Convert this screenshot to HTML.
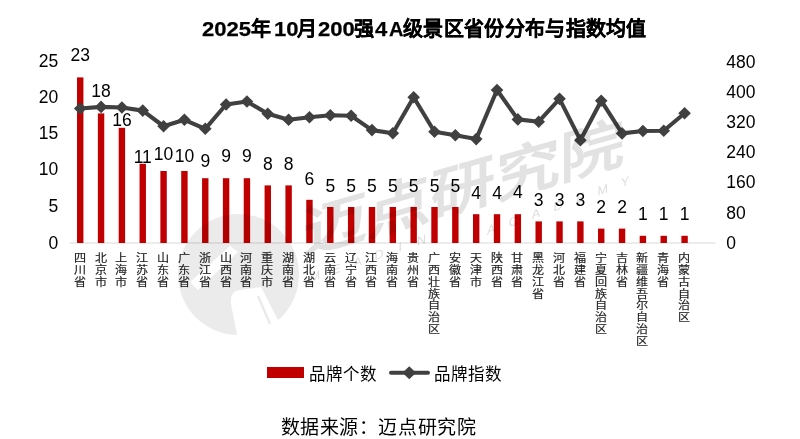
<!DOCTYPE html>
<html lang="zh-CN"><head><meta charset="utf-8">
<style>
html,body{margin:0;padding:0;background:#fff;}
body{width:800px;height:439px;position:relative;overflow:hidden;font-family:"Liberation Sans",sans-serif;color:#000;}
.abs{position:absolute;}
.vl,.al,.ar{position:absolute;font-size:17.5px;line-height:0;white-space:nowrap;}
.vl{transform:translateX(-50%);}
.al{right:741.7px;}
.ar{left:726.2px;}
.cl{position:absolute;top:253px;width:16px;margin-left:-8.5px;font-size:11px;line-height:11.85px;text-align:center;color:#222;word-break:break-all;-webkit-text-stroke:0.15px #222;transform:scaleX(1.1);}
.d{transform:scaleX(1.05);transform-origin:0 0;font-size:21px !important;}
.t{position:absolute;top:18px;-webkit-text-stroke:0.25px #000;font-size:20px;font-weight:bold;line-height:22px;white-space:nowrap;}
#legend1{position:absolute;left:266.8px;top:367.3px;width:37px;height:11px;background:#c00000;}
#lt1{position:absolute;left:308.5px;top:364px;font-size:16.5px;line-height:20px;white-space:nowrap;}
#lt2{position:absolute;left:434px;top:364px;font-size:16.5px;line-height:20px;white-space:nowrap;}
#src{position:absolute;left:280.5px;top:415.5px;font-size:19px;letter-spacing:0.6px;line-height:24px;white-space:nowrap;}
svg{position:absolute;left:0;top:0;}
#wms{mix-blend-mode:multiply;}
</style></head><body>
<svg width="800" height="439" viewBox="0 0 800 439">
<line x1="69.8" y1="243" x2="715.5" y2="243" stroke="#d9d9d9" stroke-width="1.2"/>
<rect x="77.02" y="77.40" width="6.4" height="165.60" fill="#c00000"/>
<rect x="97.86" y="113.40" width="6.4" height="129.60" fill="#c00000"/>
<rect x="118.70" y="127.80" width="6.4" height="115.20" fill="#c00000"/>
<rect x="139.54" y="163.80" width="6.4" height="79.20" fill="#c00000"/>
<rect x="160.38" y="171.00" width="6.4" height="72.00" fill="#c00000"/>
<rect x="181.22" y="171.00" width="6.4" height="72.00" fill="#c00000"/>
<rect x="202.06" y="178.20" width="6.4" height="64.80" fill="#c00000"/>
<rect x="222.90" y="178.20" width="6.4" height="64.80" fill="#c00000"/>
<rect x="243.74" y="178.20" width="6.4" height="64.80" fill="#c00000"/>
<rect x="264.58" y="185.40" width="6.4" height="57.60" fill="#c00000"/>
<rect x="285.42" y="185.40" width="6.4" height="57.60" fill="#c00000"/>
<rect x="306.26" y="199.80" width="6.4" height="43.20" fill="#c00000"/>
<rect x="327.10" y="207.00" width="6.4" height="36.00" fill="#c00000"/>
<rect x="347.94" y="207.00" width="6.4" height="36.00" fill="#c00000"/>
<rect x="368.78" y="207.00" width="6.4" height="36.00" fill="#c00000"/>
<rect x="389.62" y="207.00" width="6.4" height="36.00" fill="#c00000"/>
<rect x="410.46" y="207.00" width="6.4" height="36.00" fill="#c00000"/>
<rect x="431.30" y="207.00" width="6.4" height="36.00" fill="#c00000"/>
<rect x="452.14" y="207.00" width="6.4" height="36.00" fill="#c00000"/>
<rect x="472.98" y="214.20" width="6.4" height="28.80" fill="#c00000"/>
<rect x="493.82" y="214.20" width="6.4" height="28.80" fill="#c00000"/>
<rect x="514.66" y="214.20" width="6.4" height="28.80" fill="#c00000"/>
<rect x="535.50" y="221.40" width="6.4" height="21.60" fill="#c00000"/>
<rect x="556.34" y="221.40" width="6.4" height="21.60" fill="#c00000"/>
<rect x="577.18" y="221.40" width="6.4" height="21.60" fill="#c00000"/>
<rect x="598.02" y="228.60" width="6.4" height="14.40" fill="#c00000"/>
<rect x="618.86" y="228.60" width="6.4" height="14.40" fill="#c00000"/>
<rect x="639.70" y="235.80" width="6.4" height="7.20" fill="#c00000"/>
<rect x="660.54" y="235.80" width="6.4" height="7.20" fill="#c00000"/>
<rect x="681.38" y="235.80" width="6.4" height="7.20" fill="#c00000"/>
<polyline points="80.22,108.5 101.06,106.9 121.90,107.5 142.74,110.6 163.58,126.25 184.42,119.8 205.26,128.8 226.10,104.5 246.94,101.5 267.78,113.8 288.62,119.8 309.46,117.25 330.30,115.3 351.14,115.75 371.98,130.1 392.82,133.25 413.66,97.25 434.50,131.75 455.34,135.2 476.18,139.1 497.02,90 517.86,119.4 538.70,121.7 559.54,98.85 580.38,140.2 601.22,100.7 622.06,133.4 642.90,131 663.74,130.7 684.58,113.2" fill="none" stroke="#404040" stroke-width="4.1" stroke-linejoin="round"/>
<path d="M80.22 102.20L86.52 108.50L80.22 114.80L73.92 108.50Z" fill="#404040"/>
<path d="M101.06 100.60L107.36 106.90L101.06 113.20L94.76 106.90Z" fill="#404040"/>
<path d="M121.90 101.20L128.20 107.50L121.90 113.80L115.60 107.50Z" fill="#404040"/>
<path d="M142.74 104.30L149.04 110.60L142.74 116.90L136.44 110.60Z" fill="#404040"/>
<path d="M163.58 119.95L169.88 126.25L163.58 132.55L157.28 126.25Z" fill="#404040"/>
<path d="M184.42 113.50L190.72 119.80L184.42 126.10L178.12 119.80Z" fill="#404040"/>
<path d="M205.26 122.50L211.56 128.80L205.26 135.10L198.96 128.80Z" fill="#404040"/>
<path d="M226.10 98.20L232.40 104.50L226.10 110.80L219.80 104.50Z" fill="#404040"/>
<path d="M246.94 95.20L253.24 101.50L246.94 107.80L240.64 101.50Z" fill="#404040"/>
<path d="M267.78 107.50L274.08 113.80L267.78 120.10L261.48 113.80Z" fill="#404040"/>
<path d="M288.62 113.50L294.92 119.80L288.62 126.10L282.32 119.80Z" fill="#404040"/>
<path d="M309.46 110.95L315.76 117.25L309.46 123.55L303.16 117.25Z" fill="#404040"/>
<path d="M330.30 109.00L336.60 115.30L330.30 121.60L324.00 115.30Z" fill="#404040"/>
<path d="M351.14 109.45L357.44 115.75L351.14 122.05L344.84 115.75Z" fill="#404040"/>
<path d="M371.98 123.80L378.28 130.10L371.98 136.40L365.68 130.10Z" fill="#404040"/>
<path d="M392.82 126.95L399.12 133.25L392.82 139.55L386.52 133.25Z" fill="#404040"/>
<path d="M413.66 90.95L419.96 97.25L413.66 103.55L407.36 97.25Z" fill="#404040"/>
<path d="M434.50 125.45L440.80 131.75L434.50 138.05L428.20 131.75Z" fill="#404040"/>
<path d="M455.34 128.90L461.64 135.20L455.34 141.50L449.04 135.20Z" fill="#404040"/>
<path d="M476.18 132.80L482.48 139.10L476.18 145.40L469.88 139.10Z" fill="#404040"/>
<path d="M497.02 83.70L503.32 90.00L497.02 96.30L490.72 90.00Z" fill="#404040"/>
<path d="M517.86 113.10L524.16 119.40L517.86 125.70L511.56 119.40Z" fill="#404040"/>
<path d="M538.70 115.40L545.00 121.70L538.70 128.00L532.40 121.70Z" fill="#404040"/>
<path d="M559.54 92.55L565.84 98.85L559.54 105.15L553.24 98.85Z" fill="#404040"/>
<path d="M580.38 133.90L586.68 140.20L580.38 146.50L574.08 140.20Z" fill="#404040"/>
<path d="M601.22 94.40L607.52 100.70L601.22 107.00L594.92 100.70Z" fill="#404040"/>
<path d="M622.06 127.10L628.36 133.40L622.06 139.70L615.76 133.40Z" fill="#404040"/>
<path d="M642.90 124.70L649.20 131.00L642.90 137.30L636.60 131.00Z" fill="#404040"/>
<path d="M663.74 124.40L670.04 130.70L663.74 137.00L657.44 130.70Z" fill="#404040"/>
<path d="M684.58 106.90L690.88 113.20L684.58 119.50L678.28 113.20Z" fill="#404040"/>
<g>
<line x1="391" y1="372.7" x2="428" y2="372.7" stroke="#404040" stroke-width="4" stroke-linecap="round"/>
<path d="M409.25 366.2L416 372.7L409.25 379.2L402.5 372.7Z" fill="#404040"/>
</g>
</svg>
<div class="t d" style="left:201.8px">2025</div>
<div class="t" style="left:251.3px">年</div>
<div class="t d" style="left:273.5px">10</div>
<div class="t" style="left:297.3px">月</div>
<div class="t d" style="left:317.7px">200</div>
<div class="t" style="left:354px">强</div>
<div class="t d" style="left:375px">4</div>
<div class="t" style="left:389px">A</div>
<div class="t" style="left:403.2px;letter-spacing:0.3px">级景区省份分布与指数均值</div>
<div class="vl" style="left:80.22px;top:55.00px">23</div>
<div class="vl" style="left:101.06px;top:91.10px">18</div>
<div class="vl" style="left:121.90px;top:120.10px">16</div>
<div class="vl" style="left:142.74px;top:156.70px">11</div>
<div class="vl" style="left:163.58px;top:154.30px">10</div>
<div class="vl" style="left:184.42px;top:155.50px">10</div>
<div class="vl" style="left:205.26px;top:161.10px">9</div>
<div class="vl" style="left:226.10px;top:156.25px">9</div>
<div class="vl" style="left:246.94px;top:156.25px">9</div>
<div class="vl" style="left:267.78px;top:164.00px">8</div>
<div class="vl" style="left:288.62px;top:164.00px">8</div>
<div class="vl" style="left:309.46px;top:178.50px">6</div>
<div class="vl" style="left:330.30px;top:185.50px">5</div>
<div class="vl" style="left:351.14px;top:185.50px">5</div>
<div class="vl" style="left:371.98px;top:185.50px">5</div>
<div class="vl" style="left:392.82px;top:185.50px">5</div>
<div class="vl" style="left:413.66px;top:185.50px">5</div>
<div class="vl" style="left:434.50px;top:185.50px">5</div>
<div class="vl" style="left:455.34px;top:185.50px">5</div>
<div class="vl" style="left:476.18px;top:193.00px">4</div>
<div class="vl" style="left:497.02px;top:193.00px">4</div>
<div class="vl" style="left:517.86px;top:192.40px">4</div>
<div class="vl" style="left:538.70px;top:199.75px">3</div>
<div class="vl" style="left:559.54px;top:199.75px">3</div>
<div class="vl" style="left:580.38px;top:199.75px">3</div>
<div class="vl" style="left:601.22px;top:206.75px">2</div>
<div class="vl" style="left:622.06px;top:206.75px">2</div>
<div class="vl" style="left:642.90px;top:214.00px">1</div>
<div class="vl" style="left:663.74px;top:214.00px">1</div>
<div class="vl" style="left:684.58px;top:214.00px">1</div>
<div class="al" style="top:61.25px">25</div>
<div class="al" style="top:97.25px">20</div>
<div class="al" style="top:133.25px">15</div>
<div class="al" style="top:169.25px">10</div>
<div class="al" style="top:205.50px">5</div>
<div class="al" style="top:242.50px">0</div>
<div class="ar" style="top:61.75px">480</div>
<div class="ar" style="top:92.10px">400</div>
<div class="ar" style="top:121.70px">320</div>
<div class="ar" style="top:152.00px">240</div>
<div class="ar" style="top:182.30px">160</div>
<div class="ar" style="top:212.60px">80</div>
<div class="ar" style="top:243.00px">0</div>
<div class="cl" style="left:80.22px">四川省</div>
<div class="cl" style="left:101.06px">北京市</div>
<div class="cl" style="left:121.90px">上海市</div>
<div class="cl" style="left:142.74px">江苏省</div>
<div class="cl" style="left:163.58px">山东省</div>
<div class="cl" style="left:184.42px">广东省</div>
<div class="cl" style="left:205.26px">浙江省</div>
<div class="cl" style="left:226.10px">山西省</div>
<div class="cl" style="left:246.94px">河南省</div>
<div class="cl" style="left:267.78px">重庆市</div>
<div class="cl" style="left:288.62px">湖南省</div>
<div class="cl" style="left:309.46px">湖北省</div>
<div class="cl" style="left:330.30px">云南省</div>
<div class="cl" style="left:351.14px">辽宁省</div>
<div class="cl" style="left:371.98px">江西省</div>
<div class="cl" style="left:392.82px">海南省</div>
<div class="cl" style="left:413.66px">贵州省</div>
<div class="cl" style="left:434.50px">广西壮族自治区</div>
<div class="cl" style="left:455.34px">安徽省</div>
<div class="cl" style="left:476.18px">天津市</div>
<div class="cl" style="left:497.02px">陕西省</div>
<div class="cl" style="left:517.86px">甘肃省</div>
<div class="cl" style="left:538.70px">黑龙江省</div>
<div class="cl" style="left:559.54px">河北省</div>
<div class="cl" style="left:580.38px">福建省</div>
<div class="cl" style="left:601.22px">宁夏回族自治区</div>
<div class="cl" style="left:622.06px">吉林省</div>
<div class="cl" style="left:642.90px">新疆维吾尔自治区</div>
<div class="cl" style="left:663.74px">青海省</div>
<div class="cl" style="left:684.58px">内蒙古自治区</div>
<div id="legend1"></div>
<div id="lt1">品牌个数</div>
<div id="lt2">品牌指数</div>
<div id="src">数据来源：迈点研究院</div>
<svg id="wms" width="800" height="439" viewBox="0 0 800 439">
<g id="wm">
<circle cx="238.5" cy="274.5" r="60.5" fill="#ebebeb"/>
<path d="M231,304 C230,294 234,290 241,290 L261,287 L279,322 C268,331 252,336 237,335 Z" fill="#fff"/>
<line x1="258" y1="296" x2="270" y2="324" stroke="#ebebeb" stroke-width="2.5"/>
<path d="M190,282 L230,246 L238,252 L198,290 Z" fill="#fff"/>
<text x="463.5" y="188.5" transform="translate(463.5 188.5) skewY(-16) scale(1 0.88) translate(-463.5 -188.5)" text-anchor="middle" dominant-baseline="central" font-size="64" letter-spacing="0" font-weight="bold" fill="#e2e2e2" font-family="Liberation Sans, sans-serif">迈点研究院</text>
<text x="315.0" y="276.2" transform="translate(315.0 276.2) skewY(-19) translate(-315.0 -276.2)" text-anchor="middle" dominant-baseline="central" font-size="12.5" fill="#dedede" font-family="Liberation Sans, sans-serif">M</text>
<text x="336.3" y="268.9" transform="translate(336.3 268.9) skewY(-19) translate(-336.3 -268.9)" text-anchor="middle" dominant-baseline="central" font-size="12.5" fill="#dedede" font-family="Liberation Sans, sans-serif">E</text>
<text x="357.6" y="261.6" transform="translate(357.6 261.6) skewY(-19) translate(-357.6 -261.6)" text-anchor="middle" dominant-baseline="central" font-size="12.5" fill="#dedede" font-family="Liberation Sans, sans-serif">A</text>
<text x="378.9" y="254.3" transform="translate(378.9 254.3) skewY(-19) translate(-378.9 -254.3)" text-anchor="middle" dominant-baseline="central" font-size="12.5" fill="#dedede" font-family="Liberation Sans, sans-serif">D</text>
<text x="400.2" y="247.1" transform="translate(400.2 247.1) skewY(-19) translate(-400.2 -247.1)" text-anchor="middle" dominant-baseline="central" font-size="12.5" fill="#dedede" font-family="Liberation Sans, sans-serif">I</text>
<text x="421.5" y="239.8" transform="translate(421.5 239.8) skewY(-19) translate(-421.5 -239.8)" text-anchor="middle" dominant-baseline="central" font-size="12.5" fill="#dedede" font-family="Liberation Sans, sans-serif">N</text>
<text x="491.1" y="229.2" transform="translate(491.1 229.2) skewY(-19) translate(-491.1 -229.2)" text-anchor="middle" dominant-baseline="central" font-size="12.5" fill="#dedede" font-family="Liberation Sans, sans-serif">A</text>
<text x="513.4" y="221.3" transform="translate(513.4 221.3) skewY(-19) translate(-513.4 -221.3)" text-anchor="middle" dominant-baseline="central" font-size="12.5" fill="#dedede" font-family="Liberation Sans, sans-serif">C</text>
<text x="535.8" y="213.4" transform="translate(535.8 213.4) skewY(-19) translate(-535.8 -213.4)" text-anchor="middle" dominant-baseline="central" font-size="12.5" fill="#dedede" font-family="Liberation Sans, sans-serif">A</text>
<text x="558.1" y="205.5" transform="translate(558.1 205.5) skewY(-19) translate(-558.1 -205.5)" text-anchor="middle" dominant-baseline="central" font-size="12.5" fill="#dedede" font-family="Liberation Sans, sans-serif">D</text>
<text x="580.4" y="197.6" transform="translate(580.4 197.6) skewY(-19) translate(-580.4 -197.6)" text-anchor="middle" dominant-baseline="central" font-size="12.5" fill="#dedede" font-family="Liberation Sans, sans-serif">E</text>
<text x="602.8" y="189.7" transform="translate(602.8 189.7) skewY(-19) translate(-602.8 -189.7)" text-anchor="middle" dominant-baseline="central" font-size="12.5" fill="#dedede" font-family="Liberation Sans, sans-serif">M</text>
<text x="625.1" y="181.8" transform="translate(625.1 181.8) skewY(-19) translate(-625.1 -181.8)" text-anchor="middle" dominant-baseline="central" font-size="12.5" fill="#dedede" font-family="Liberation Sans, sans-serif">Y</text>
</g>
</svg>
</body></html>
